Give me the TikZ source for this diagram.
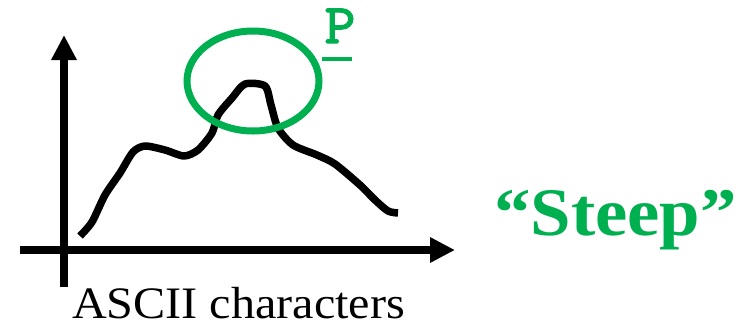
\documentclass[tikz,border=0pt]{standalone}
\usepackage{fontspec}
\setmainfont{Liberation Serif}
\newfontfamily\monofont[FakeBold=2.5]{Latin Modern Mono}
\usetikzlibrary{arrows.meta}
\definecolor{offgreen}{RGB}{0,176,80}
\tikzset{
  axis/.style={line width=8.5pt, -{Triangle[length=25pt,width=24pt]}},
  curve/.style={line width=7.5pt, line join=round, line cap=butt},
  ring/.style={draw=offgreen, line width=7pt},
  lbl/.style={anchor=base, inner sep=0pt, xscale=1.07},
}
\begin{document}
\begin{tikzpicture}[x=1pt,y=-1pt]
\useasboundingbox (0,0) rectangle (753,325);
% axes
\coordinate (vb) at (64,287);
\coordinate (vt) at (64,35);
\coordinate (hl) at (20,250);
\coordinate (hr) at (455,250);
\draw[axis] (vb) -- (vt);
\draw[axis] (hl) -- (hr);
% curve
\draw[curve] plot[smooth, tension=0.45] coordinates {
 (80,236) (92,222) (105,195) (120,173) (133,152) (145,146) (165,150) (184,156)
 (198,150) (212,133) (218,115) (232,98) (245,84) (265,86) (271,105) (278,128)
 (293,145) (317,155) (335,164) (360,185) (375,200) (388,211) (398,213)};
% ellipse
\coordinate (circ) at (253,81);
\draw[ring] (circ) ellipse [x radius=66, y radius=50];
% P label
\node[lbl, text=offgreen, font=\monofont\fontsize{56}{56}\selectfont] (p) at (340,43) {P};
\coordinate (ul) at (322,59);
\coordinate (ur) at (352,59);
\draw[offgreen, line width=4pt] (ul) -- (ur);
% Steep
\node[lbl, text=offgreen, font=\bfseries\fontsize{68}{68}\selectfont] (steep) at (615.5,235) {“Steep”};
% x label
\node[lbl, font=\fontsize{45}{45}\selectfont] (xlab) at (238.5,318) {ASCII characters};
\end{tikzpicture}
\end{document}
